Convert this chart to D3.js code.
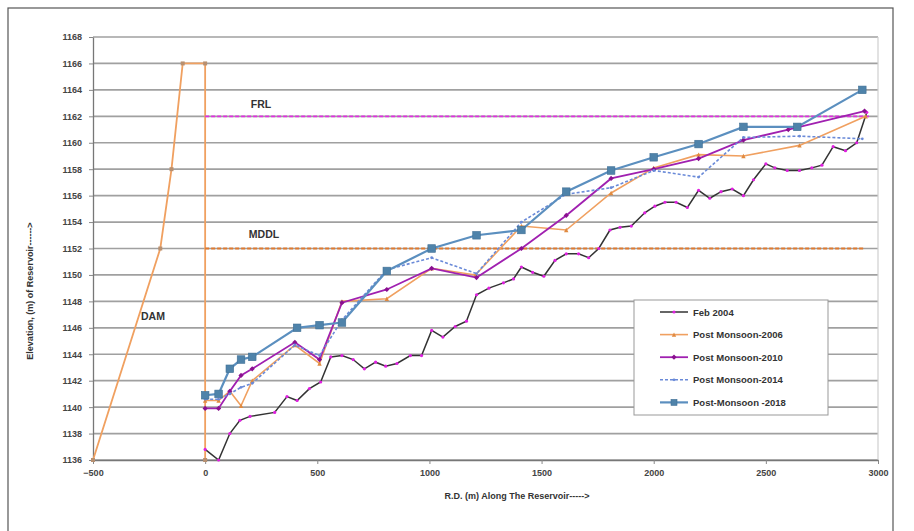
<!DOCTYPE html>
<html lang="en">
<head>
<meta charset="UTF-8">
<title>Reservoir longitudinal profile</title>
<script src="https://d3js.org/d3.v7.min.js"></script>
<style>
  body { margin: 0; background: #fff; }
  text { font-family: "Liberation Sans", Arial, sans-serif; }
</style>
</head>
<body>
<svg id="chart" width="914" height="531"></svg>
<script>
// axis ticks
const xTicks = [-500, 0, 500, 1000, 1500, 2000, 2500, 3000];
const yTicks = d3.range(1136, 1169, 2);

// dam section and reference levels
const dam = [[-500, 1136], [-200, 1152], [-150, 1158], [-100, 1166], [0, 1166], [0, 1136]];
const frl = [[0, 1162], [2960, 1162]];
const mddl = [[0, 1152], [2935, 1152]];

// surveys: [R.D. (m), elevation (m)]
const feb2004 = [[0, 1136.8], [60, 1136.0], [110, 1138.0], [155, 1139.0], [200, 1139.3], [310, 1139.6],
  [365, 1140.8], [410, 1140.5], [465, 1141.4], [515, 1141.9], [560, 1143.8], [610, 1143.9], [660, 1143.6],
  [710, 1142.9], [760, 1143.4], [805, 1143.1], [855, 1143.3], [915, 1143.9], [965, 1143.9], [1010, 1145.8],
  [1060, 1145.3], [1115, 1146.1], [1165, 1146.5], [1210, 1148.5], [1265, 1149.0], [1330, 1149.4],
  [1375, 1149.7], [1410, 1150.6], [1460, 1150.2], [1510, 1149.9], [1560, 1151.1], [1610, 1151.6],
  [1665, 1151.6], [1710, 1151.3], [1755, 1152.0], [1805, 1153.4], [1850, 1153.6], [1900, 1153.7],
  [1960, 1154.7], [2005, 1155.2], [2050, 1155.5], [2100, 1155.5], [2150, 1155.1], [2200, 1156.4],
  [2250, 1155.8], [2300, 1156.3], [2350, 1156.5], [2400, 1156.0], [2445, 1157.2], [2500, 1158.4],
  [2540, 1158.1], [2595, 1157.9], [2650, 1157.9], [2705, 1158.1], [2750, 1158.3], [2800, 1159.7],
  [2855, 1159.4], [2905, 1160.0], [2950, 1162.3]];
const pm2006 = [[0, 1140.5], [60, 1140.5], [110, 1141.2], [160, 1140.1], [210, 1142.0], [400, 1144.7],
  [510, 1143.3], [610, 1148.0], [810, 1148.2], [1010, 1150.5], [1205, 1150.0], [1410, 1153.7],
  [1610, 1153.4], [1810, 1156.2], [2000, 1158.1], [2200, 1159.1], [2400, 1159.0], [2650, 1159.8],
  [2945, 1162.0]];
const pm2010 = [[0, 1139.9], [60, 1139.9], [110, 1141.2], [160, 1142.4], [210, 1142.9], [400, 1144.9],
  [510, 1143.6], [610, 1147.9], [810, 1148.9], [1010, 1150.5], [1210, 1149.8], [1410, 1152.0],
  [1610, 1154.5], [1810, 1157.3], [2000, 1158.0], [2200, 1158.8], [2400, 1160.2], [2600, 1161.0],
  [2940, 1162.4]];
const pm2014 = [[0, 1140.6], [60, 1140.6], [110, 1141.0], [160, 1141.5], [210, 1141.8], [400, 1144.7],
  [510, 1143.9], [610, 1146.6], [810, 1150.4], [1010, 1151.3], [1210, 1150.1], [1410, 1154.0],
  [1610, 1156.1], [1810, 1156.6], [2000, 1157.9], [2200, 1157.4], [2400, 1160.4], [2650, 1160.5],
  [2930, 1160.3]];
const pm2018 = [[0, 1140.9], [60, 1141.0], [110, 1142.9], [160, 1143.6], [210, 1143.8], [410, 1146.0],
  [510, 1146.2], [610, 1146.4], [810, 1150.3], [1010, 1152.0], [1210, 1153.0], [1410, 1153.4],
  [1610, 1156.3], [1810, 1157.9], [2000, 1158.9], [2200, 1159.9], [2400, 1161.2], [2640, 1161.2],
  [2930, 1164.0]];

const seriesNames = ["Feb 2004", "Post Monsoon-2006", "Post Monsoon-2010", "Post Monsoon-2014", "Post-Monsoon -2018"];

const svg = d3.select("#chart");
const x = d3.scaleLinear().domain([-500, 3000]).range([93, 878]);
const y = d3.scaleLinear().domain([1136, 1168]).range([460, 37]);
const line = d3.line().x(d => x(d[0])).y(d => y(d[1]));

// outer chart frame
svg.append("rect").attr("x", 8).attr("y", 8).attr("width", 885).attr("height", 540)
  .attr("fill", "#fff").attr("stroke", "#555").attr("stroke-width", 1.2);

// gridlines
svg.append("g").selectAll("line").data(yTicks).join("line")
  .attr("x1", x(-500)).attr("x2", x(3000))
  .attr("y1", d => y(d)).attr("y2", d => y(d))
  .attr("stroke", "#a0a0a0").attr("stroke-width", 1.7);
svg.append("line").attr("x1", x(3000)).attr("x2", x(3000)).attr("y1", y(1168)).attr("y2", y(1136))
  .attr("stroke", "#cfcfcf").attr("stroke-width", 1.2);

// axes
const xAxis = svg.append("g").attr("transform", `translate(0,${y(1136)})`)
  .call(d3.axisBottom(x).tickValues(xTicks).tickFormat(d3.format("d"))
    .tickSize(4).tickSizeOuter(0).tickPadding(6));
const yAxis = svg.append("g").attr("transform", `translate(${x(-500)},0)`)
  .call(d3.axisLeft(y).tickValues(yTicks).tickFormat(d3.format("d"))
    .tickSize(4).tickSizeOuter(0).tickPadding(7));
[xAxis, yAxis].forEach(a => {
  a.select(".domain").attr("stroke", "#777").attr("stroke-width", 1.3);
  a.selectAll(".tick line").attr("stroke", "#888");
  a.selectAll("text").attr("font-size", 9).attr("font-weight", "bold").attr("fill", "#444")
    .attr("font-family", "Liberation Sans, Arial, sans-serif");
});

// axis titles
svg.append("text").attr("x", 517).attr("y", 499).attr("text-anchor", "middle")
  .attr("font-size", 9).attr("font-weight", "bold").attr("fill", "#333")
  .text("R.D. (m) Along The Reservoir----->");
svg.append("text").attr("transform", "translate(33,291) rotate(-90)").attr("text-anchor", "middle")
  .attr("font-size", 9).attr("font-weight", "bold").attr("fill", "#333")
  .text("Elevation, (m) of Reservoir------>");

// dam and levels
svg.append("path").datum(dam).attr("d", line).attr("fill", "none")
  .attr("stroke", "#f0a060").attr("stroke-width", 1.8);
svg.append("g").selectAll("rect").data(dam).join("rect")
  .attr("x", d => x(d[0]) - 2).attr("y", d => y(d[1]) - 2).attr("width", 4).attr("height", 4)
  .attr("fill", "#b89070");
svg.append("path").datum(frl).attr("d", line).attr("fill", "none")
  .attr("stroke", "#e030e0").attr("stroke-width", 1.8).attr("stroke-dasharray", "4,2");
svg.append("path").datum(mddl).attr("d", line).attr("fill", "none")
  .attr("stroke", "#e07a30").attr("stroke-width", 1.8).attr("stroke-dasharray", "4,2");

const labels = [["FRL", 261, 108], ["MDDL", 264, 238], ["DAM", 153, 320]];
svg.append("g").selectAll("text").data(labels).join("text")
  .attr("x", d => d[1]).attr("y", d => d[2]).attr("text-anchor", "middle")
  .attr("font-size", 10.5).attr("font-weight", "bold").attr("fill", "#333").text(d => d[0]);

// survey lines
const styles = [
  { data: feb2004, stroke: "#333", width: 1.5, dash: null, marker: "dot", mfill: "#e020e0", ms: 1.6 },
  { data: pm2006, stroke: "#f0a060", width: 1.6, dash: null, marker: "tri", mfill: "#e08a40", ms: 2.2 },
  { data: pm2010, stroke: "#a020b0", width: 1.8, dash: null, marker: "diamond", mfill: "#8a1090", ms: 2.6 },
  { data: pm2014, stroke: "#6a8ad8", width: 1.6, dash: "3,2", marker: "dot", mfill: "#6a8ad8", ms: 1.4 },
  { data: pm2018, stroke: "#5b8fbf", width: 2.2, dash: null, marker: "square", mfill: "#4f83aa", ms: 3.8 }
];

function drawMarker(g, s, px, py) {
  if (s.marker === "square") {
    g.append("rect").attr("x", px - s.ms).attr("y", py - s.ms).attr("width", s.ms * 2).attr("height", s.ms * 2)
      .attr("fill", s.mfill).attr("stroke", "#3f6f95").attr("stroke-width", 0.6);
  } else if (s.marker === "diamond") {
    g.append("path").attr("d", `M${px},${py - s.ms}L${px + s.ms},${py}L${px},${py + s.ms}L${px - s.ms},${py}Z`)
      .attr("fill", s.mfill);
  } else if (s.marker === "tri") {
    g.append("path").attr("d", `M${px},${py - s.ms}L${px + s.ms},${py + s.ms}L${px - s.ms},${py + s.ms}Z`)
      .attr("fill", s.mfill);
  } else {
    g.append("circle").attr("cx", px).attr("cy", py).attr("r", s.ms).attr("fill", s.mfill);
  }
}

styles.forEach(s => {
  const g = svg.append("g");
  g.append("path").datum(s.data).attr("d", line).attr("fill", "none")
    .attr("stroke", s.stroke).attr("stroke-width", s.width)
    .attr("stroke-dasharray", s.dash);
  s.data.forEach(d => drawMarker(g, s, x(d[0]), y(d[1])));
});

// legend
const lg = svg.append("g");
lg.append("rect").attr("x", 634).attr("y", 300).attr("width", 194).attr("height", 115)
  .attr("fill", "#fff").attr("stroke", "#999").attr("stroke-width", 1);
styles.forEach((s, i) => {
  const ly = 312 + i * 22.6;
  lg.append("line").attr("x1", 660).attr("x2", 688).attr("y1", ly).attr("y2", ly)
    .attr("stroke", s.stroke).attr("stroke-width", s.width).attr("stroke-dasharray", s.dash);
  drawMarker(lg, { ...s, ms: s.marker === "square" ? 3 : s.ms }, 674, ly);
  lg.append("text").attr("x", 693).attr("y", ly + 3.5).attr("font-size", 9.5)
    .attr("font-weight", "bold").attr("fill", "#333").text(seriesNames[i]);
});
</script>
</body>
</html>
